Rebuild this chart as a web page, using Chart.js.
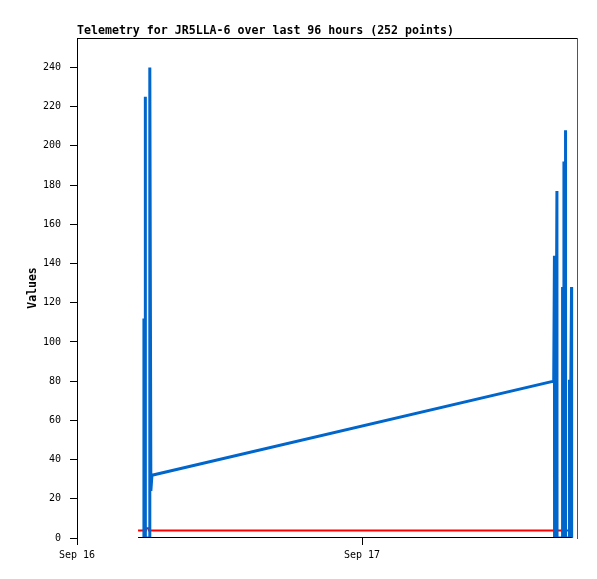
<!DOCTYPE html>
<html>
<head>
<meta charset="utf-8">
<script src="https://cdn.jsdelivr.net/npm/chart.js@4/dist/chart.umd.min.js"></script>
<style>
html,body{margin:0;padding:0;background:#fff;}
#wrap{width:597px;height:579px;}
</style>
</head>
<body>
<div id="wrap"><canvas id="c" width="597" height="579"></canvas></div>
<script>
// Hours since Sep 16 00:00
const titleText = 'Telemetry for JR5LLA-6 over last 96 hours (252 points)';
const yAxisLabel = 'Values';
const yTickValues = [0, 20, 40, 60, 80, 100, 120, 140, 160, 180, 200, 220, 240];
const xTickHours = [0, 24];
const xTickLabels = ['Sep 16', 'Sep 17'];

const blueHours = [5.62, 5.63, 5.64, 5.74, 5.75, 5.76, 6.12, 6.13, 6.22, 6.31,
                   40.14, 40.20, 40.21, 40.33, 40.41, 40.42,
                   40.87, 40.88, 40.89, 40.99, 41.00, 41.01, 41.12, 41.13, 41.14,
                   41.46, 41.47, 41.58, 41.64, 41.65];
const blueValues = [0, 112, 0, 0, 225, 0, 0, 240, 24, 32,
                    80, 144, 0, 64, 177, 0,
                    0, 128, 0, 0, 192, 0, 0, 208, 0,
                    0, 80, 80, 128, 0];

const redHours = [5.14, 5.80, 5.84, 6.01, 6.05, 41.72];
const redValues = [3.8, 3.8, 5.0, 5.0, 3.8, 3.8];

const blackHours = [5.14, 41.66];
const blackValues = [0, 0];

const xMax = 42.1;
const yMax = 255;

function pts(h, v) { return h.map((x, i) => ({x: x, y: v[i]})); }

const mono = "'DejaVu Sans Mono', 'Liberation Mono', monospace";

new Chart(document.getElementById('c'), {
  type: 'line',
  data: {
    datasets: [
      {data: pts(blackHours, blackValues), borderColor: '#000000', borderWidth: 2, pointRadius: 0, order: 0, tension: 0},
      {data: pts(blueHours, blueValues), borderColor: '#0066cc', borderWidth: 3, pointRadius: 0, order: 1, tension: 0},
      {data: pts(redHours, redValues), borderColor: '#ff0000', borderWidth: 2, pointRadius: 0, order: 2, tension: 0}
    ]
  },
  options: {
    responsive: false,
    animation: false,
    devicePixelRatio: 1,
    layout: {padding: {left: 0, right: 20, top: 0, bottom: 0}},
    plugins: {
      legend: {display: false},
      tooltip: {enabled: false},
      title: {
        display: true, text: titleText, align: 'start', fullSize: false,
        color: '#000', font: {family: mono, size: 11.6, weight: 'bold'},
        padding: {top: 24, bottom: 0.1}
      }
    },
    scales: {
      x: {
        type: 'linear', position: 'bottom', min: 0, max: xMax,
        afterFit: s => { s.height = 41; },
        afterBuildTicks: s => { s.ticks = xTickHours.map(v => ({value: v})); },
        ticks: {
          callback: (v) => { const i = xTickHours.indexOf(v); return i >= 0 ? xTickLabels[i] : ''; },
          color: '#000', font: {family: mono, size: 10}, padding: 4, maxRotation: 0, autoSkip: false
        },
        grid: {drawOnChartArea: false, drawTicks: true, tickLength: 7, color: '#000'},
        border: {display: false}
      },
      x2: {
        type: 'linear', position: 'top', min: 0, max: xMax,
        afterFit: s => { s.height = 0; },
        ticks: {display: false},
        grid: {drawOnChartArea: false, drawTicks: false},
        border: {display: true, color: '#000', width: 1}
      },
      y: {
        type: 'linear', position: 'left', min: 0, max: yMax,
        afterFit: s => { s.width = 77; },
        afterBuildTicks: s => { s.ticks = yTickValues.map(v => ({value: v})); },
        ticks: {color: '#000', font: {family: mono, size: 10}, padding: 9},
        grid: {drawOnChartArea: false, drawTicks: true, tickLength: 7, color: '#000'},
        border: {display: true, color: '#000', width: 1},
        title: {display: true, text: yAxisLabel, color: '#000', font: {family: mono, size: 11.5, weight: 'bold'}, padding: {top: 26, bottom: 0}}
      },
      y2: {
        type: 'linear', position: 'right', min: 0, max: yMax,
        afterFit: s => { s.width = 0; },
        ticks: {display: false},
        grid: {drawOnChartArea: false, drawTicks: false},
        border: {display: true, color: '#555555', width: 1}
      }
    }
  }
});
</script>
</body>
</html>
